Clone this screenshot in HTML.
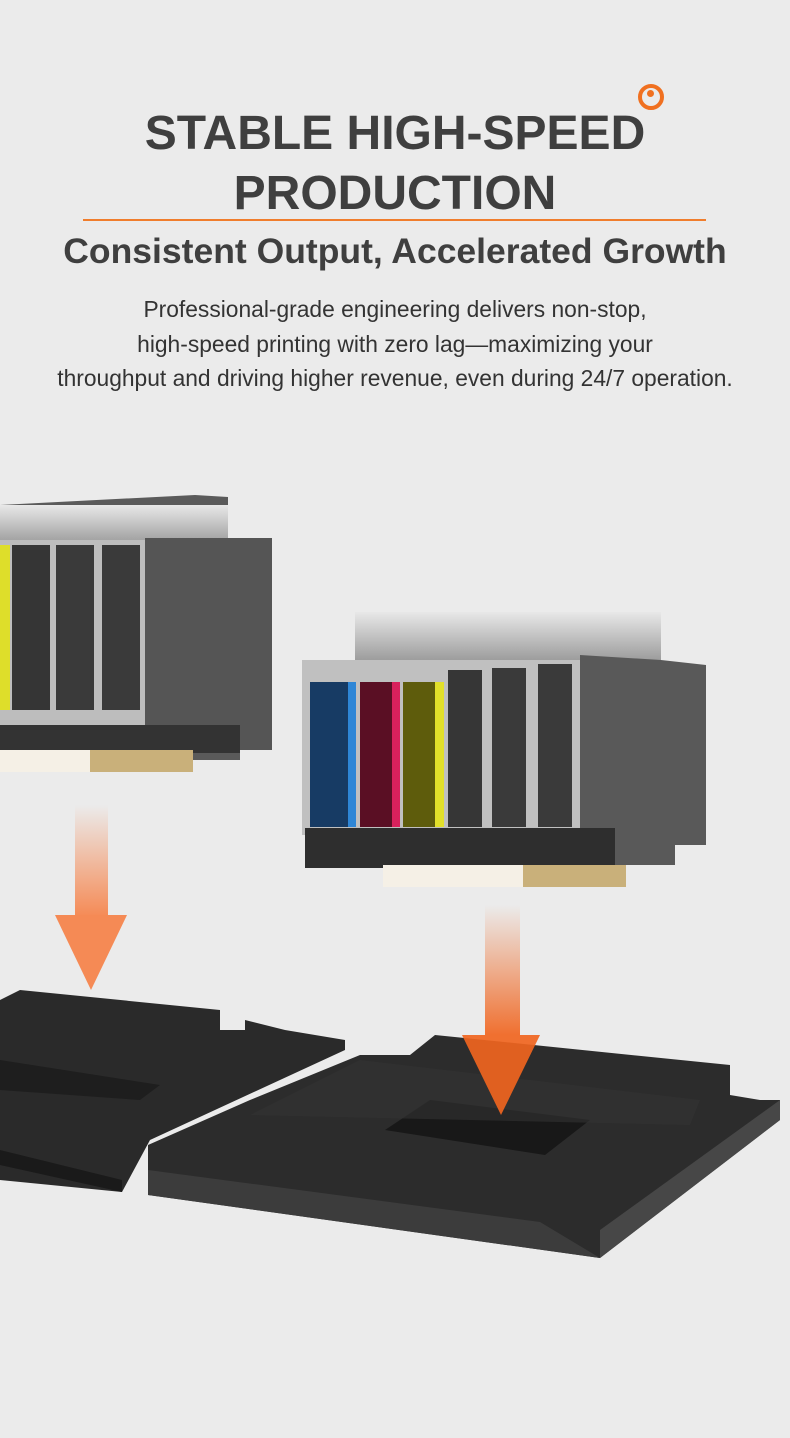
<!DOCTYPE html>
<html><head><meta charset="utf-8"><style>
html,body{margin:0;padding:0}
body{width:790px;height:1438px;background:#ebebeb;position:relative;overflow:hidden;font-family:"Liberation Sans",sans-serif;color:#3f3f3f}
.t{position:absolute;left:0;width:790px;text-align:center;font-weight:bold}
</style></head><body>
<div class="t" style="top:104px;font-size:48px;line-height:60px">STABLE HIGH-SPEED</div>
<div class="t" style="top:164px;font-size:48px;line-height:60px">PRODUCTION</div>
<div style="position:absolute;left:83px;top:219px;width:623px;height:2px;background:#f07d2c"></div>
<div style="position:absolute;left:638px;top:84px;width:18px;height:18px;border:4px solid #f07020;border-radius:50%"></div>
<div style="position:absolute;left:647px;top:90px;width:7px;height:7px;background:#f07020;border-radius:50%"></div>
<div class="t" style="top:230px;font-size:35.5px;line-height:42px">Consistent Output, Accelerated Growth</div>
<div class="t" style="top:292px;font-size:22.8px;font-weight:normal;line-height:34.5px;color:#333">Professional-grade engineering delivers non-stop,<br>high-speed printing with zero lag—maximizing your<br>throughput and driving higher revenue, even during 24/7 operation.</div>
<svg style="position:absolute;left:0;top:0" width="790" height="1438">
<defs>
<linearGradient id="sil" x1="0" y1="0" x2="0" y2="1"><stop offset="0" stop-color="#e8e8e8"/><stop offset="1" stop-color="#9a9a9a"/></linearGradient>
<linearGradient id="a1" x1="0" y1="0" x2="0" y2="1"><stop offset="0" stop-color="#f58a55" stop-opacity="0"/><stop offset="1" stop-color="#f58a55"/></linearGradient>
<linearGradient id="a2" x1="0" y1="0" x2="0" y2="1"><stop offset="0" stop-color="#f07030" stop-opacity="0"/><stop offset="1" stop-color="#f07030"/></linearGradient>
</defs>
<!-- left printhead -->
<polygon points="0,505 195,495 228,497 228,545 272,550 272,750 240,750 240,760 0,760" fill="#5a5a5a"/>
<rect x="0" y="505" width="228" height="40" fill="url(#sil)"/>
<rect x="0" y="540" width="150" height="185" fill="#bdbdbd"/>
<rect x="0" y="545" width="10" height="165" fill="#dede2a"/>
<rect x="12" y="545" width="38" height="165" fill="#353535"/>
<rect x="56" y="545" width="38" height="165" fill="#3a3a3a"/>
<rect x="102" y="545" width="38" height="165" fill="#3a3a3a"/>
<rect x="145" y="538" width="127" height="212" fill="#555"/>
<rect x="0" y="725" width="240" height="28" fill="#333"/>
<rect x="0" y="750" width="90" height="22" fill="#f5f0e6"/>
<rect x="90" y="750" width="103" height="22" fill="#c9b07a"/>
<!-- right printhead -->
<rect x="355" y="612" width="306" height="50" fill="url(#sil)"/>
<rect x="302" y="660" width="290" height="175" fill="#c0c0c0"/>
<rect x="310" y="682" width="38" height="145" fill="#173b64"/><rect x="348" y="682" width="8" height="145" fill="#2e86d6"/>
<rect x="360" y="682" width="32" height="145" fill="#5a0f24"/><rect x="392" y="682" width="8" height="145" fill="#d8215c"/>
<rect x="403" y="682" width="32" height="145" fill="#5e5c0c"/><rect x="435" y="682" width="9" height="145" fill="#e2e02a"/>
<rect x="448" y="670" width="34" height="157" fill="#363636"/>
<rect x="492" y="668" width="34" height="159" fill="#3a3a3a"/>
<rect x="538" y="664" width="34" height="163" fill="#3a3a3a"/>
<polygon points="580,655 661,660 706,665 706,845 675,845 675,865 580,865" fill="#595959"/>
<rect x="305" y="828" width="310" height="40" fill="#2e2e2e"/>
<rect x="383" y="865" width="140" height="22" fill="#f5f0e6"/>
<rect x="523" y="865" width="103" height="22" fill="#c9b07a"/>
<!-- arrows -->
<rect x="75" y="805" width="33" height="112" fill="url(#a1)"/>
<polygon points="55,915 127,915 91,990" fill="#f58a55"/>
<rect x="485" y="905" width="35" height="130" fill="url(#a2)"/>
<!-- trays -->
<polygon points="0,1000 20,990 220,1010 220,1030 245,1030 245,1020 285,1030 345,1040 345,1050 150,1140 122,1192 0,1180" fill="#2a2a2a"/>
<polygon points="0,1165 122,1192 122,1180 0,1150" fill="#1a1a1a"/>
<polygon points="0,1060 160,1085 140,1100 0,1090" fill="#1e1e1e"/>
<polygon points="148,1145 250,1100 360,1055 410,1055 435,1035 730,1065 730,1095 760,1100 780,1100 780,1120 600,1258 148,1195" fill="#2c2c2c"/>
<polygon points="148,1170 540,1222 600,1258 148,1195" fill="#3c3c3c"/>
<polygon points="600,1258 780,1120 780,1100 600,1230" fill="#474747"/>
<polygon points="385,1130 430,1100 590,1120 545,1155" fill="#181818"/>
<polygon points="250,1115 360,1060 700,1100 690,1125" fill="#333" opacity=".6"/>
<polygon points="462,1035 540,1035 501,1115" fill="#f06520" opacity=".92"/>
</svg>
</body></html>
